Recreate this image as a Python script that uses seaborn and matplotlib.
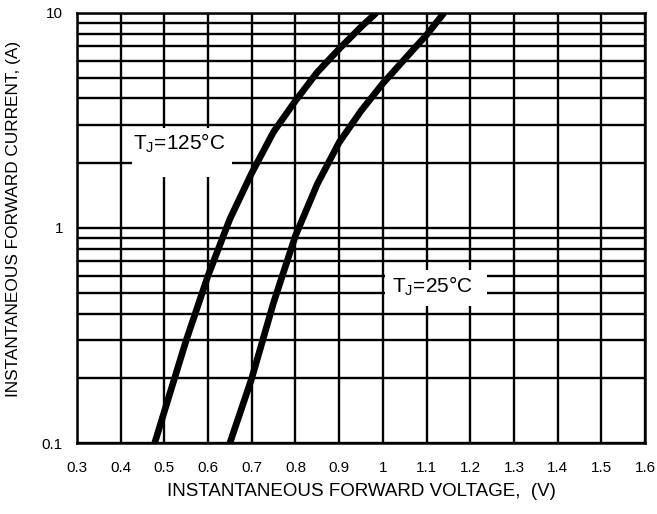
import pandas as pd
import matplotlib
matplotlib.use("Agg")
import matplotlib.pyplot as plt
import seaborn as sns
from matplotlib.patches import Rectangle
from matplotlib.ticker import FixedLocator, NullFormatter

# curve data
v_125 = [0.478, 0.50, 0.55, 0.60, 0.65, 0.70, 0.75, 0.80, 0.85, 0.90, 0.95, 0.985]
i_125 = [0.1, 0.14, 0.30, 0.60, 1.1, 1.8, 2.8, 3.9, 5.3, 6.8, 8.6, 10.0]
v_25 = [0.65, 0.70, 0.75, 0.80, 0.85, 0.90, 0.95, 1.00, 1.05, 1.10, 1.14]
i_25 = [0.1, 0.20, 0.45, 0.92, 1.6, 2.5, 3.5, 4.7, 6.1, 7.9, 10.0]

x_ticks = [0.3, 0.4, 0.5, 0.6, 0.7, 0.8, 0.9, 1.0, 1.1, 1.2, 1.3, 1.4, 1.5, 1.6]
x_labels = ["0.3", "0.4", "0.5", "0.6", "0.7", "0.8", "0.9", "1",
            "1.1", "1.2", "1.3", "1.4", "1.5", "1.6"]
y_ticks = [0.1, 1, 10]
y_labels = ["0.1", "1", "10"]

df = pd.concat([
    pd.DataFrame(dict(v=v_125, i=i_125, tj="125")),
    pd.DataFrame(dict(v=v_25, i=i_25, tj="25")),
])

sns.set_style("white")
plt.rcParams["font.family"] = ["Liberation Sans", "DejaVu Sans"]
plt.rcParams["mathtext.fontset"] = "custom"
plt.rcParams["mathtext.rm"] = "Liberation Sans"
plt.rcParams["text.color"] = "black"
plt.rcParams["axes.labelcolor"] = "black"

fig = plt.figure(figsize=(6.57, 5.14), dpi=100)
fig.patch.set_facecolor("white")
ax = fig.add_axes([0.117, 0.138, 0.865, 0.837])

ax.set_yscale("log")
ax.set_xlim(0.3, 1.6)
ax.set_ylim(0.1, 10)

# grid
ax.set_xticks(x_ticks)
ax.set_xticklabels(x_labels)
ax.set_yticks(y_ticks)
ax.set_yticklabels(y_labels)
minors = [m * d for d in (0.1, 1) for m in range(2, 10)]
ax.yaxis.set_minor_locator(FixedLocator(minors))
ax.yaxis.set_minor_formatter(NullFormatter())
ax.grid(True, which="both", color="black", lw=1.7)
ax.tick_params(which="both", length=0, labelsize=11, colors="black")
ax.tick_params(axis="x", pad=13)
ax.tick_params(axis="y", pad=10)
ax.set_axisbelow(True)
for s in ax.spines.values():
    s.set_color("black")
    s.set_linewidth(1.8)

sns.lineplot(data=df, x="v", y="i", units="tj", estimator=None,
             color="black", lw=4.8, ax=ax, legend=False, sort=False,
             solid_capstyle="butt", zorder=4)

ax.set_xlabel("INSTANTANEOUS FORWARD VOLTAGE,  (V)", fontsize=13.5,
              labelpad=6, color="black")
ax.set_ylabel("INSTANTANEOUS FORWARD CURRENT, (A)", fontsize=12.4,
              labelpad=10, color="black")
ax.yaxis.set_label_coords(-0.098, 0.52)

# white label boxes that break the grid
ax.add_patch(Rectangle((0.426, 1.73), 0.229, 2.92 - 1.73,
                       facecolor="white", edgecolor="none", zorder=3))
ax.add_patch(Rectangle((1.005, 0.434), 0.233, 0.638 - 0.434,
                       facecolor="white", edgecolor="none", zorder=3))
ax.text(0.428, 2.49, r"T$_{\rm J}$=125°C", fontsize=15, ha="left", va="center",
        color="black", zorder=5)
ax.text(1.021, 0.537, r"T$_{\rm J}$=25°C", fontsize=15, ha="left", va="center",
        color="black", zorder=5)

fig.savefig("out.png", dpi=100)
plt.close()
